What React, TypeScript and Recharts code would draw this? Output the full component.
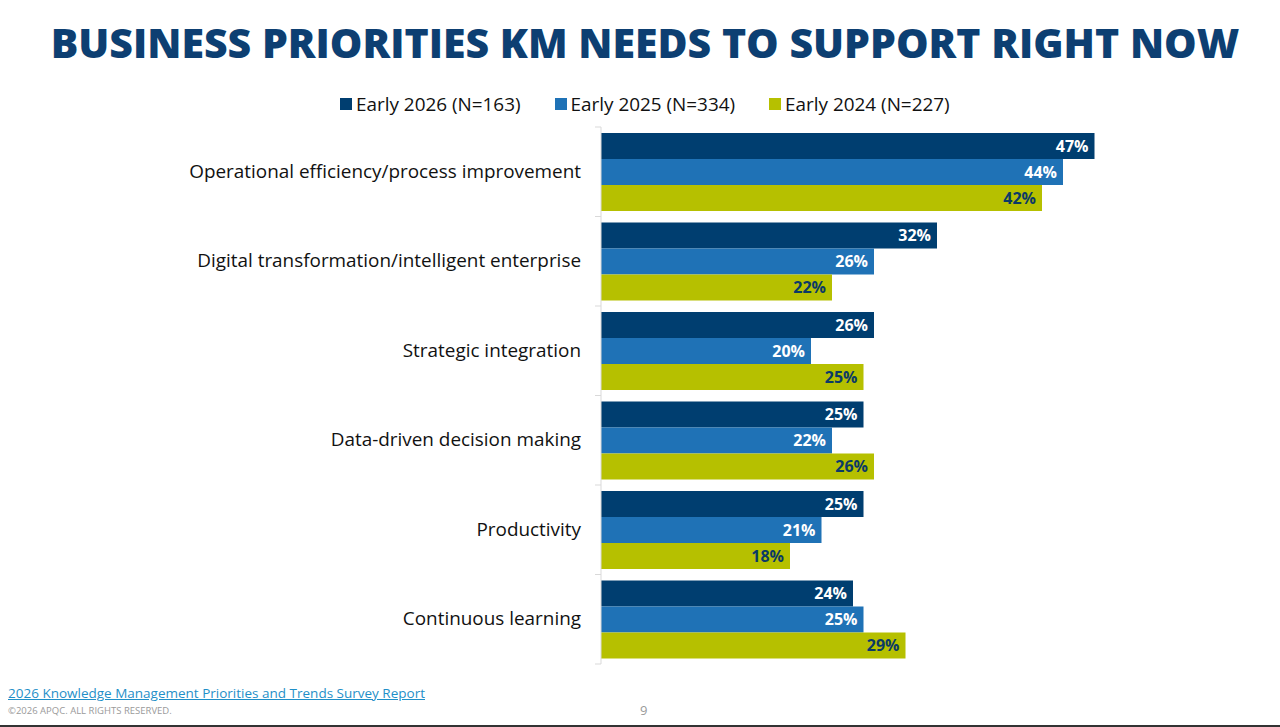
import { BarChart, Bar, XAxis, YAxis, LabelList } from "recharts"

const categories = [
  "Operational efficiency/process improvement",
  "Digital transformation/intelligent enterprise",
  "Strategic integration",
  "Data-driven decision making",
  "Productivity",
  "Continuous learning",
]

const early2026 = [47, 32, 26, 25, 25, 24]
const early2025 = [44, 26, 20, 22, 21, 25]
const early2024 = [42, 22, 25, 26, 18, 29]

const series = [
  { key: "y2026", name: "Early 2026 (N=163)", values: early2026, color: "#003e70", label: "#ffffff" },
  { key: "y2025", name: "Early 2025 (N=334)", values: early2025, color: "#1f72b6", label: "#ffffff" },
  { key: "y2024", name: "Early 2024 (N=227)", values: early2024, color: "#b6c000", label: "#0b3a66" },
]

const FONT = "'Open Sans', 'Noto Sans', sans-serif"
const PLOT_TOP = 127
const PLOT_BOTTOM = 63
const CHART_H = 727
const BAND = (CHART_H - PLOT_TOP - PLOT_BOTTOM) / categories.length

const data = categories.map((name, i) => {
  const row: Record<string, string | number> = { name }
  series.forEach((s) => {
    row[s.key] = s.values[i]
  })
  return row
})

// category label plus the small boundary ticks on the axis
function CategoryTick(props: any) {
  const { x, y, payload, index } = props
  const axisX = x + 20
  return (
    <g>
      <line x1={axisX - 6} x2={axisX} y1={y - BAND / 2} y2={y - BAND / 2} stroke="#d9d9d9" />
      {index === categories.length - 1 && (
        <line x1={axisX - 6} x2={axisX} y1={y + BAND / 2} y2={y + BAND / 2} stroke="#d9d9d9" />
      )}
      <text x={x} y={y} dy={6} textAnchor="end" fill="#111" fontSize={18.9} fontFamily={FONT}>
        {payload.value}
      </text>
    </g>
  )
}

export default function App() {
  return (
    <div
      style={{
        position: "absolute",
        left: 0,
        top: 0,
        width: 1280,
        height: 727,
        background: "#fff",
        fontFamily: FONT,
        overflow: "hidden",
      }}
    >
      <div
        style={{
          position: "absolute",
          top: 14,
          left: 0,
          width: 1290,
          textAlign: "center",
          fontSize: 41,
          fontWeight: 800,
          color: "#0d3f72",
          whiteSpace: "nowrap",
        }}
      >
        BUSINESS PRIORITIES KM NEEDS TO SUPPORT RIGHT NOW
      </div>

      <div
        style={{
          position: "absolute",
          top: 91,
          left: 340,
          display: "flex",
          gap: 34,
          fontSize: 18.9,
          color: "#111",
        }}
      >
        {series.map((s) => (
          <div key={s.key} style={{ display: "flex", alignItems: "center" }}>
            <span style={{ width: 12, height: 12, background: s.color, marginRight: 4, display: "inline-block" }} />
            <span>{s.name}</span>
          </div>
        ))}
      </div>

      <div style={{ position: "absolute", left: 0, top: 0 }}>
        <BarChart
          width={1280}
          height={CHART_H}
          data={data}
          layout="vertical"
          margin={{ top: PLOT_TOP, right: 49, bottom: PLOT_BOTTOM, left: 0 }}
          barGap={0}
        >
          <XAxis type="number" domain={[0, 60]} hide />
          <YAxis
            type="category"
            dataKey="name"
            width={601}
            axisLine={{ stroke: "#d9d9d9" }}
            tickLine={false}
            tickMargin={0}
            tickSize={20}
            tick={<CategoryTick />}
            interval={0}
          />
          {series.map((s) => (
            <Bar key={s.key} dataKey={s.key} name={s.name} fill={s.color} barSize={26} isAnimationActive={false}>
              <LabelList
                dataKey={s.key}
                position="insideRight"
                offset={6}
                fill={s.label}
                fontSize={16}
                fontWeight={700}
                fontFamily={FONT}
                formatter={(v: any) => `${v}%`}
              />
            </Bar>
          ))}
        </BarChart>
      </div>

      <div
        style={{
          position: "absolute",
          left: 8,
          top: 684,
          fontSize: 13.5,
          color: "#1f8fc8",
          textDecoration: "underline",
        }}
      >
        2026 Knowledge Management Priorities and Trends Survey Report
      </div>
      <div style={{ position: "absolute", left: 8, top: 704, fontSize: 9.5, color: "#9a9a9a" }}>
        ©2026 APQC. ALL RIGHTS RESERVED.
      </div>
      <div style={{ position: "absolute", left: 640, top: 701, fontSize: 13, color: "#9a9a9a" }}>9</div>
      <div style={{ position: "absolute", left: 0, top: 725, width: 1280, height: 2, background: "#333" }} />
    </div>
  )
}
